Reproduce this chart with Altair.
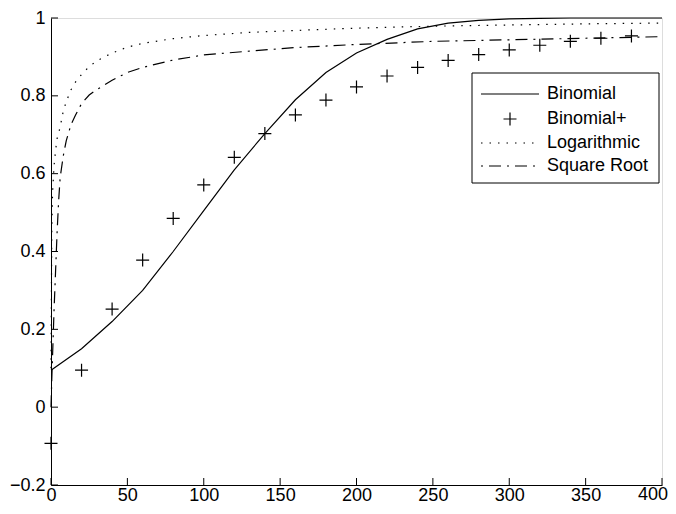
import altair as alt
import pandas as pd

# ---- data ----
binom_x = [0, 20, 40, 60, 80, 100, 120, 140, 160, 180, 200, 220, 240, 260, 280, 300, 320, 340, 360, 380, 400]
binom_y = [0.095, 0.15, 0.22, 0.30, 0.40, 0.505, 0.61, 0.703, 0.79, 0.86, 0.91, 0.945, 0.972, 0.987, 0.994,
           0.998, 0.999, 1.0, 1.0, 1.0, 1.0]

plus_x = [0, 20, 40, 60, 80, 100, 120, 140, 160, 180, 200, 220, 240, 260, 280, 300, 320, 340, 360, 380]
plus_y = [-0.093, 0.095, 0.252, 0.378, 0.485, 0.571, 0.642, 0.703, 0.751, 0.789, 0.823, 0.851, 0.873,
          0.891, 0.906, 0.918, 0.930, 0.940, 0.948, 0.954]

log_x = [0, 0.5, 1, 2, 3, 4, 6, 8, 10, 13, 16, 20, 25, 30, 40, 50, 60, 80, 100, 130, 160, 200, 250, 300, 350, 400]
log_y = [0.10, 0.45, 0.55, 0.62, 0.66, 0.69, 0.72, 0.76, 0.785, 0.815, 0.835, 0.855, 0.875, 0.89, 0.91, 0.925,
         0.935, 0.947, 0.955, 0.963, 0.968, 0.974, 0.979, 0.982, 0.985, 0.987]

sqrt_x = [0, 0.5, 1, 2, 3, 4, 5, 6, 8, 10, 13, 16, 20, 25, 30, 40, 50, 60, 80, 100, 130, 160, 200, 250, 300, 350, 400]
sqrt_y = [0.0, 0.07, 0.13, 0.25, 0.35, 0.45, 0.53, 0.59, 0.645, 0.685, 0.725, 0.75, 0.78, 0.802, 0.816, 0.84,
          0.86, 0.873, 0.892, 0.905, 0.915, 0.924, 0.932, 0.94, 0.944, 0.948, 0.952]

x_ticks = [0, 50, 100, 150, 200, 250, 300, 350, 400]
x_last = [400]
y_ticks = [-0.2, 0, 0.2, 0.4, 0.6, 0.8, 1]
legend_labels = ["Binomial", "Binomial+", "Logarithmic", "Square Root"]

# ---- layout ----
W, H = 611, 467
FONT = "Liberation Sans"
FS = 18
LW = 1.2
XLP = 1

xs = alt.Scale(domain=[0, 400], nice=False, zero=False)
ys = alt.Scale(domain=[-0.2, 1], nice=False, zero=False)

xax = alt.Axis(values=x_ticks, ticks=False, tickSize=0, grid=False, domainColor="black", domainWidth=1,
               labelFont=FONT, labelFontSize=FS, labelColor="black", labelPadding=XLP, title=None,
               format="d", labelFlush=False, labelOverlap=False, labelBound=False,
               labelExpr="datum.value == 400 ? '' : datum.label")
yax = alt.Axis(values=y_ticks, ticks=False, tickSize=0, grid=False, domainColor="black", domainWidth=1,
               labelFont=FONT, labelFontSize=FS, labelColor="black", labelPadding=6, title=None,
               format="~g", labelFlush=False, labelOverlap=False, labelBound=False)

df_b = pd.DataFrame({"x": binom_x, "y": binom_y})
df_p = pd.DataFrame({"x": plus_x, "y": plus_y})
df_l = pd.DataFrame({"x": log_x, "y": log_y})
df_s = pd.DataFrame({"x": sqrt_x, "y": sqrt_y})

X = alt.X("x:Q", scale=xs, axis=xax)
Y = alt.Y("y:Q", scale=ys, axis=yax)

binom = alt.Chart(df_b).mark_line(color="black", strokeWidth=LW).encode(x=X, y=Y)
plus = alt.Chart(df_p).mark_point(shape="M-1,0L1,0M0,-1L0,1", size=169, filled=False,
                                  stroke="black", strokeWidth=LW, opacity=1).encode(x=X, y=Y)
logc = alt.Chart(df_l).mark_line(color="black", strokeWidth=LW, strokeDash=[1.5, 7]).encode(x=X, y=Y)
sqrc = alt.Chart(df_s).mark_line(color="black", strokeWidth=LW, strokeDash=[12, 6, 2, 6]).encode(x=X, y=Y)

# inward ticks
xt = alt.Chart(pd.DataFrame({"x": x_ticks})).mark_rule(color="black", strokeWidth=1).encode(
    x=X, y=alt.value(H), y2=alt.value(H - 7))
yt = alt.Chart(pd.DataFrame({"y": y_ticks})).mark_rule(color="black", strokeWidth=1).encode(
    y=Y, x=alt.value(0), x2=alt.value(7))
# last x label, kept inside the page
xlast = alt.Chart(pd.DataFrame({"x": x_last, "t": ["400"]})).mark_text(
    font=FONT, fontSize=FS, color="black", align="right", baseline="top", dx=6).encode(
    x=X, y=alt.value(H + XLP), text="t:N")

# legend
one = pd.DataFrame({"a": [0]})
LX0, LX1, LY0, LY1 = 421, 608, 55, 165
rows = [76, 101, 125, 148]
SX0, SX1, TX = 430, 488, 496
box = alt.Chart(one).mark_rect(fill="white", stroke="black", strokeWidth=1).encode(
    x=alt.value(LX0), x2=alt.value(LX1), y=alt.value(LY0), y2=alt.value(LY1))
leg_b = alt.Chart(one).mark_rule(color="black", strokeWidth=LW).encode(
    x=alt.value(SX0), x2=alt.value(SX1), y=alt.value(rows[0]))
leg_p = alt.Chart(one).mark_point(shape="M-1,0L1,0M0,-1L0,1", size=169, filled=False,
                                  stroke="black", strokeWidth=LW, opacity=1).encode(
    x=alt.value((SX0 + SX1) / 2), y=alt.value(rows[1]))
leg_l = alt.Chart(one).mark_rule(color="black", strokeWidth=LW, strokeDash=[1.5, 7]).encode(
    x=alt.value(SX0), x2=alt.value(SX1), y=alt.value(rows[2]))
leg_s = alt.Chart(one).mark_rule(color="black", strokeWidth=LW, strokeDash=[2, 6, 12, 6]).encode(
    x=alt.value(SX0), x2=alt.value(SX1), y=alt.value(rows[3]))
texts = [
    alt.Chart(one).mark_text(text=lab, font=FONT, fontSize=FS, color="black", align="left",
                             baseline="middle").encode(x=alt.value(TX), y=alt.value(r))
    for lab, r in zip(legend_labels, rows)
]

chart = alt.layer(binom, plus, logc, sqrc, xt, yt, xlast, box, leg_b, leg_p, leg_l, leg_s, *texts).properties(
    width=W, height=H,
    autosize=alt.AutoSizeParams(type="none"),
    padding={"left": 43, "top": 10, "right": 6, "bottom": 19},
).configure_view(stroke=None).configure(background="white")

chart.save("out.html", embed_options={"renderer": "svg", "actions": False})
